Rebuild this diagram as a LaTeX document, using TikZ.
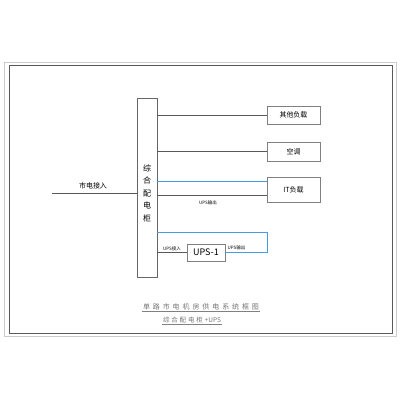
\documentclass[tikz,border=0pt]{standalone}
\usepackage{fontspec}
\setmainfont{Noto Sans CJK SC}
\begin{document}
\begin{tikzpicture}[x=1pt,y=-1pt,
  lineg/.style={draw=black!65,line width=0.8pt},
  lineb/.style={draw=blue!45!cyan!80!black,line width=0.8pt,color={rgb,255:red,70;green,155;blue,225}},
  loadbox/.style={draw=black!50,line width=0.6pt,fill=white,minimum width=53pt,inner sep=0pt,font=\fontsize{7}{8}\selectfont},
  tiny/.style={font=\fontsize{4.5}{5}\selectfont,inner sep=0.5pt}]
\useasboundingbox (0,0) rectangle (400,400);
% frames
\draw[black!20,line width=0.8pt] (4,62) rectangle (396,336);
\draw[black!65,line width=0.8pt] (9,65) rectangle (392,333);
% cabinet
\node[draw=black!60,line width=0.6pt,minimum width=20pt,minimum height=179pt,inner sep=0pt] (cab) at (147,187.5) {};
\node[align=center,font=\fontsize{8}{12.5}\selectfont,inner sep=0pt] (cabt) at (147,193) {综\\合\\配\\电\\柜};
% loads
\node[loadbox,minimum height=18pt] (other) at (293.5,115) {其他负载};
\node[loadbox,minimum height=19pt] (ac) at (293.5,151.5) {空调};
\node[loadbox,minimum height=25pt] (it) at (293.5,189.5) {IT负载};
\node[draw=black!50,line width=0.6pt,minimum width=38pt,minimum height=17pt,inner sep=0pt,font=\fontsize{9}{10}\selectfont] (ups) at (206,252.5) {UPS-1};
% input
\coordinate (in) at (52,193);
\draw[lineg] (in) -- (in -| cab.west);
\node[font=\fontsize{7}{8}\selectfont,inner sep=0pt] (inlab) at (93,186) {市电接入};
% load lines
\draw[lineg] (cab.east |- other.west) -- (other.west);
\draw[lineg] (cab.east |- ac.west) -- (ac.west);
\coordinate (itg) at ([yshift=-5.5pt]it.west);
\draw[lineg] (cab.east |- itg) -- (itg);
\coordinate (itb) at ([yshift=8.5pt]it.west);
\draw[lineb] (cab.east |- itb) -- (itb);
\node[tiny] (uo1) at (208,202.5) {UPS输出};
% UPS loop
\coordinate (c1) at (267,232);
\coordinate (c2) at (267,252);
\draw[lineb] (cab.east |- c1) -- (c1) -- (c2) -- (c2 -| ups.east);
\coordinate (ui) at (157,252);
\draw[lineg] (cab.east |- ui) -- (ups.west |- ui);
\node[tiny] (uin) at (172,248.5) {UPS接入};
\node[tiny] (uo2) at (236.5,248) {UPS输出};
% titles
\node[font=\fontsize{7}{8}\selectfont,text=black!55,inner sep=0.8pt] (t1) at (201,307) {\makebox[116pt]{单\hfill 路\hfill 市\hfill 电\hfill 机\hfill 房\hfill 供\hfill 电\hfill 系\hfill 统\hfill 框\hfill 图}};
\draw[black!50,line width=0.5pt] (t1.south west) -- (t1.south east);
\node[font=\fontsize{6.5}{8}\selectfont,text=black!55,inner sep=0.8pt] (t2) at (192,320.5) {\makebox[58pt]{综\hfill 合\hfill 配\hfill 电\hfill 柜\hfill +UPS}};
\draw[black!50,line width=0.5pt] (t2.south west) -- (t2.south east);
\end{tikzpicture}
\end{document}
